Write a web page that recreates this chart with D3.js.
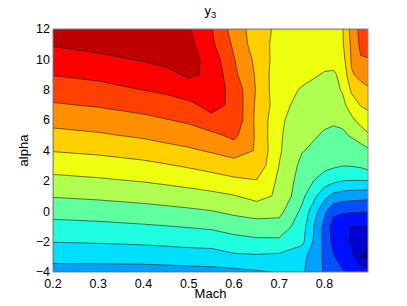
<!DOCTYPE html>
<html>
<head>
<meta charset="utf-8">
<script src="https://cdn.jsdelivr.net/npm/d3@7"></script>
<style>
  body { margin: 0; background: #fff; }
  text { font-family: "Liberation Sans", Arial, sans-serif; fill: #000; }
</style>
</head>
<body>
<div id="container"></div>
<script>
/* CONSTANTS AND GLOBALS */
const width = 407,
  height = 306,
  margin = { top: 29, bottom: 34, left: 53, right: 39 };

/* DATA */
// grid of the surface: Mach columns, alpha rows (bottom row first)
const mach = [0.2, 0.3, 0.4, 0.45, 0.5, 0.55, 0.6, 0.65, 0.7, 0.75, 0.8, 0.82, 0.84, 0.86, 0.88, 0.9];
const alpha = [-4, -3, -2, -1, 0, 1, 2, 3, 4, 5, 6, 7, 8, 9, 10, 11, 12];

const y3 = [
  [4.6, 4.59, 4.59, 4.62, 4.66, 4.71, 4.75, 4.9, 5.05, 5.15, 3.9, 3.5, 3.1, 2.8, 2.6, 2.5],
  [5.32, 5.34, 5.39, 5.45, 5.51, 5.55, 5.81, 5.85, 5.75, 5.3, 3.85, 3.1, 2.5, 2.3, 0.95, 0.75],
  [6.03, 6.08, 6.17, 6.24, 6.32, 6.37, 6.63, 6.8, 6.8, 6.25, 3.7, 2.72, 2.3, 1.85, 1.3, 1.1],
  [6.68, 6.76, 6.89, 6.97, 7.06, 7.17, 7.43, 7.55, 7.6, 6.47, 3.7, 2.5, 2.2, 1.98, 1.96, 1.98],
  [7.36, 7.47, 7.63, 7.73, 7.84, 7.97, 8.22, 8.45, 8.3, 6.8, 4.2, 3.29, 3.15, 3.1, 3.08, 3.05],
  [8.06, 8.18, 8.35, 8.46, 8.59, 8.74, 8.95, 9.3, 8.85, 7.26, 5.3, 4.7, 4.5, 4.4, 4.35, 4.3],
  [8.72, 8.86, 9.05, 9.19, 9.35, 9.55, 9.8, 9.95, 8.81, 7.56, 6.47, 6.2, 6.0, 5.97, 5.97, 5.95],
  [9.38, 9.53, 9.74, 9.91, 10.11, 10.35, 10.6, 10.69, 8.97, 7.75, 7.3, 7.15, 7.02, 7.05, 7.15, 7.5],
  [10.05, 10.2, 10.45, 10.67, 10.86, 11.11, 11.42, 10.93, 9.11, 8.05, 7.67, 7.45, 7.4, 7.45, 7.6, 7.9],
  [10.7, 10.88, 11.15, 11.34, 11.52, 11.75, 12.25, 10.85, 9.1, 8.43, 7.85, 7.75, 7.85, 8.1, 8.5, 8.95],
  [11.32, 11.49, 11.75, 11.95, 12.16, 12.75, 12.8, 10.74, 9.25, 8.25, 8.25, 8.15, 8.2, 8.8, 9.33, 9.6],
  [11.91, 12.09, 12.38, 12.59, 12.8, 13.3, 12.8, 10.8, 9.45, 8.54, 8.3, 8.35, 8.75, 9.5, 10.06, 10.3],
  [12.48, 12.68, 13.02, 13.19, 13.48, 13.5, 12.7, 10.9, 9.3, 8.94, 8.6, 8.7, 9.1, 10.18, 10.75, 10.9],
  [13.04, 13.24, 13.55, 13.73, 14.15, 13.83, 12.23, 10.86, 9.29, 9.2, 8.95, 8.9, 9.21, 10.92, 11.2, 11.6],
  [13.56, 13.78, 14.08, 14.28, 14.4, 13.6, 12.05, 10.73, 9.49, 9.3, 9.2, 9.25, 9.64, 11.13, 11.92, 11.95],
  [14.08, 14.31, 14.6, 14.7, 14.3, 13.2, 11.82, 10.46, 9.66, 9.45, 9.5, 9.65, 9.9, 11.2, 12.23, 12.6],
  [14.6, 14.8, 15, 15, 14.1, 13.05, 11.57, 10.48, 9.75, 9.55, 9.6, 9.75, 9.95, 11.4, 12.3, 12.6]
];

const levels = [0, 1, 2, 3, 4, 5, 6, 7, 8, 9, 10, 11, 12, 13, 14];
const levelColors = ["#00008F", "#0000CF", "#0010FF", "#0050FF", "#00A0FF", "#00DFFF", "#20FFDF",
  "#60FF9F", "#AFFF50", "#EFFF10", "#FFCF00", "#FF8F00", "#FF4000", "#FF0000", "#BF0000"];

const xTicks = [0.2, 0.3, 0.4, 0.5, 0.6, 0.7, 0.8];
const yTicks = [-4, -2, 0, 2, 4, 6, 8, 10, 12];

/* SCALES */
const xScale = d3.scaleLinear()
  .domain([0.2, 0.896])
  .range([margin.left, width - margin.right]);

const yScale = d3.scaleLinear()
  .domain([-4, 12])
  .range([height - margin.bottom, margin.top]);

// grid index -> data value
const colToMach = d3.scaleLinear().domain(d3.range(mach.length)).range(mach).clamp(true);
const rowToAlpha = d3.scaleLinear().domain(d3.range(alpha.length)).range(alpha).clamp(true);

/* HTML ELEMENTS */
const svg = d3.select("#container")
  .append("svg")
  .attr("width", width)
  .attr("height", height);

svg.append("clipPath")
  .attr("id", "plot-clip")
  .append("rect")
  .attr("x", margin.left)
  .attr("y", margin.top)
  .attr("width", width - margin.left - margin.right)
  .attr("height", height - margin.top - margin.bottom);

// contours
const contours = d3.contours()
  .size([mach.length, alpha.length])
  .thresholds(levels)(y3.flat());

const toPlot = d3.geoTransform({
  point: function(gx, gy) {
    this.stream.point(xScale(colToMach(gx - 0.5)), yScale(rowToAlpha(gy - 0.5)));
  }
});
const path = d3.geoPath(toPlot);

svg.append("g")
  .attr("clip-path", "url(#plot-clip)")
  .selectAll("path")
  .data(contours)
  .join("path")
  .attr("d", path)
  .attr("fill", d => levelColors[d.value])
  .attr("stroke", d => d.value > 0 ? "#1a1a1a" : "none")
  .attr("stroke-width", 0.6)
  .attr("stroke-linejoin", "round");

// box
svg.append("rect")
  .attr("x", margin.left)
  .attr("y", margin.top)
  .attr("width", width - margin.left - margin.right)
  .attr("height", height - margin.top - margin.bottom)
  .attr("fill", "none")
  .attr("stroke", "#8a8a8a")
  .attr("stroke-width", 1);

// tick labels
svg.append("g")
  .selectAll("text")
  .data(xTicks)
  .join("text")
  .attr("x", d => xScale(d))
  .attr("y", height - margin.bottom + 16)
  .attr("text-anchor", "middle")
  .style("font-size", "12.5px")
  .text(d => d3.format(".1f")(d));

svg.append("g")
  .selectAll("text")
  .data(yTicks)
  .join("text")
  .attr("x", margin.left - 3)
  .attr("y", d => yScale(d))
  .attr("dy", "0.34em")
  .attr("text-anchor", "end")
  .style("font-size", "12.5px")
  .text(d => d < 0 ? "\u2212" + Math.abs(d) : d);

// axis labels
svg.append("text")
  .attr("x", xScale(0.548))
  .attr("y", height - 8)
  .attr("text-anchor", "middle")
  .style("font-size", "13px")
  .text("Mach");

svg.append("text")
  .attr("transform", `translate(28,${yScale(4)}) rotate(-90)`)
  .attr("text-anchor", "middle")
  .style("font-size", "13px")
  .text("alpha");

// title
const title = svg.append("text")
  .attr("x", xScale(0.548))
  .attr("y", 15)
  .attr("text-anchor", "middle")
  .style("font-size", "13px");
title.append("tspan").text("y");
title.append("tspan").attr("dy", 3).style("font-size", "9.5px").text("3");
</script>
</body>
</html>
